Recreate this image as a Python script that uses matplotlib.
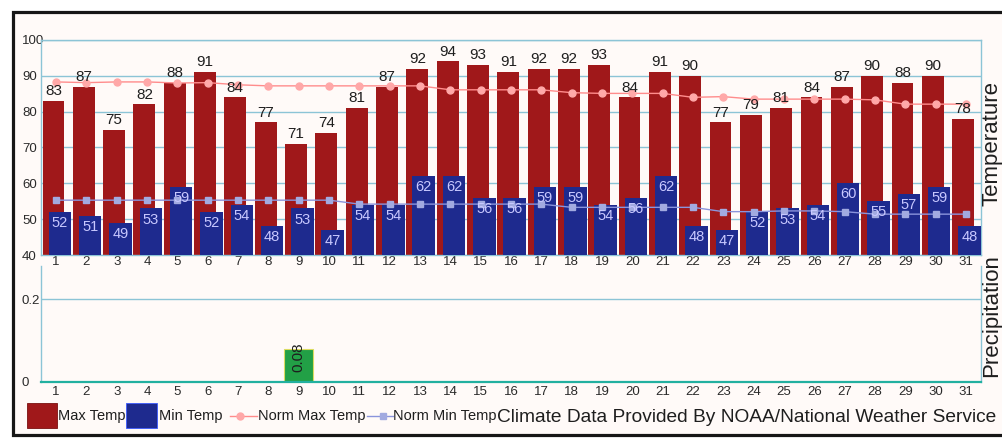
import matplotlib
matplotlib.use('Agg')
import matplotlib.pyplot as plt
from matplotlib.patches import Rectangle
from matplotlib.lines import Line2D
import numpy as np

plt.rcParams['font.family'] = ['Liberation Sans', 'DejaVu Sans']

# ---------------- data ----------------
days = list(range(1, 32))
max_temp = [83, 87, 75, 82, 88, 91, 84, 77, 71, 74, 81, 87, 92, 94, 93, 91,
            92, 92, 93, 84, 91, 90, 77, 79, 81, 84, 87, 90, 88, 90, 78]
min_temp = [52, 51, 49, 53, 59, 52, 54, 48, 53, 47, 54, 54, 62, 62, 56, 56,
            59, 59, 54, 56, 62, 48, 47, 52, 53, 54, 60, 55, 57, 59, 48]
norm_max = [88.3, 88.1, 88.3, 88.3, 88.0, 88.1, 87.5, 87.2, 87.2, 87.2, 87.2,
            87.2, 87.2, 86.1, 86.1, 86.1, 86.1, 85.3, 85.1, 85.1, 85.1, 84.0,
            84.2, 83.5, 83.5, 83.5, 83.5, 83.3, 82.1, 82.1, 82.1]
norm_min = [55.3, 55.3, 55.3, 55.3, 55.3, 55.3, 55.3, 55.3, 55.3, 55.3, 54.2,
            54.2, 54.2, 54.2, 54.2, 54.2, 54.2, 53.3, 53.3, 53.3, 53.3, 53.3,
            52.1, 52.1, 52.3, 52.3, 52.1, 51.4, 51.4, 51.4, 51.4]
precip = [0, 0, 0, 0, 0, 0, 0, 0, 0.08, 0, 0, 0, 0, 0, 0, 0,
          0, 0, 0, 0, 0, 0, 0, 0, 0, 0, 0, 0, 0, 0, 0]
temp_ticks = [40, 50, 60, 70, 80, 90, 100]
precip_ticks = [0, 0.2]
precip_tick_labels = ['0', '0.2']
legend_labels = ['Max Temp', 'Min Temp', 'Norm Max Temp', 'Norm Min Temp']
credit = 'Climate Data Provided By NOAA/National Weather Service'

# ---------------- style ----------------
RED = '#a0181a'
BLUE = '#1e2a8e'
GREEN = '#22a046'
GRID = '#8cc4d6'
PINK = '#ff8c8c'
PINK_M = '#ffa8a8'
LBLUE = '#8a94dc'
LBLUE_M = '#a2aae0'
MINLBL = '#c8c8ff'
TXT = '#1e1e1e'

W, H = 1002, 438
fig = plt.figure(figsize=(W / 100, H / 100), dpi=100)
fig.patch.set_facecolor('white')


def fx(px):
    return px / W


def fy(py):
    return 1 - py / H


# outer frame (behind everything)
frame = Rectangle((fx(12.5), fy(434.5)), fx(1010) - fx(12.5), (434.5 - 11.5) / H,
                  transform=fig.transFigure, facecolor='#fffaf8',
                  edgecolor='#161616', lw=2.3, zorder=-5)
fig.patches.append(frame)

x = np.array(days, dtype=float)

# ---------------- temperature axes ----------------
ax1 = fig.add_axes([fx(41), fy(255), 940 / W, 215 / H])
ax1.set_facecolor('none')
ax1.set_xlim(0.5, 31.5)
ax1.set_ylim(40, 100)
ax1.set_yticks(temp_ticks)
ax1.set_xticks(days)
ax1.grid(axis='y', color=GRID, lw=1.0)
ax1.set_axisbelow(True)
for s in ['left', 'right', 'top', 'bottom']:
    ax1.spines[s].set_color(GRID)
    ax1.spines[s].set_linewidth(1.0)

ax1.bar(x - 0.09, max_temp, width=0.72, color=RED, zorder=2)
ax1.bar(x + 0.12, min_temp, width=0.74, color=BLUE, zorder=3)
ax1.plot(x, norm_max, color=PINK, lw=1.0, marker='o', ms=5,
         mfc=PINK_M, mec=PINK_M, zorder=4)
ax1.plot(x, norm_min, color=LBLUE, lw=1.0, marker='s', ms=5,
         mfc=LBLUE_M, mec=LBLUE_M, zorder=4)

for xi, v in zip(x, max_temp):
    ax1.annotate(str(v), (xi - 0.09, v), xytext=(0, 2), textcoords='offset points',
                 ha='center', va='bottom', fontsize=11, color=TXT, zorder=5)
for xi, v in zip(x, min_temp):
    ax1.annotate(str(v), (xi + 0.12, v), xytext=(0, -3), textcoords='offset points',
                 ha='center', va='top', fontsize=10.5, color=MINLBL, zorder=5)

ax1.tick_params(axis='x', length=0, pad=1, labelsize=9.5, labelcolor='#2a2a2a')
ax1.tick_params(axis='y', length=0, pad=13.7, labelsize=9.5, labelcolor='#2a2a2a')
for lbl in ax1.get_yticklabels():
    lbl.set_horizontalalignment('left')

# ---------------- precipitation axes ----------------
ax2 = fig.add_axes([fx(41), fy(382), 940 / W, (382 - 265.8) / H])
ax2.set_facecolor('none')
ax2.set_xlim(0.5, 31.5)
ax2.set_ylim(0, 0.28)
ax2.set_yticks(precip_ticks)
ax2.set_yticklabels(precip_tick_labels)
ax2.set_xticks(days)
ax2.grid(axis='y', color=GRID, lw=1.0)
ax2.set_axisbelow(True)
ax2.spines['top'].set_visible(False)
for s in ['left', 'right']:
    ax2.spines[s].set_color(GRID)
    ax2.spines[s].set_linewidth(1.0)
ax2.spines['bottom'].set_color('#22b0a0')
ax2.spines['bottom'].set_linewidth(1.6)
ax2.spines['bottom'].set_zorder(4)

ax2.bar(x, precip, width=0.95, color=GREEN, edgecolor='#dcdc60', lw=0.8, zorder=3)
for xi, v in zip(x, precip):
    if v > 0:
        ax2.annotate(f'{v:.2f}', (xi, v), xytext=(0, 4.5), textcoords='offset points',
                     rotation=90, ha='center', va='top', fontsize=11, color=TXT,
                     zorder=5)

ax2.tick_params(axis='x', length=0, pad=3, labelsize=9.5, labelcolor='#2a2a2a')
ax2.tick_params(axis='y', length=0, pad=13.7, labelsize=9.5, labelcolor='#2a2a2a')
for lbl in ax2.get_yticklabels():
    lbl.set_horizontalalignment('left')

# ---------------- side titles ----------------
fig.text(fx(992), fy(144), 'Temperature', rotation=90, ha='center', va='center',
         fontsize=16, color=TXT)
fig.text(fx(992), fy(316), 'Precipitation', rotation=90, ha='center', va='center',
         fontsize=16, color=TXT)

# ---------------- legend ----------------
ly = 416
fig.patches.append(Rectangle((fx(27), fy(428)), 30 / W, 25 / H, transform=fig.transFigure,
                             facecolor=RED, edgecolor='#7a1010', lw=0.6, zorder=3))
fig.text(fx(58), fy(ly), legend_labels[0], ha='left', va='center', fontsize=10.5, color=TXT)
fig.patches.append(Rectangle((fx(126), fy(428)), 31 / W, 25 / H, transform=fig.transFigure,
                             facecolor=BLUE, edgecolor='#3a5aff', lw=0.6, zorder=3))
fig.text(fx(159), fy(ly), legend_labels[1], ha='left', va='center', fontsize=10.5, color=TXT)
fig.lines.append(Line2D([fx(230), fx(257)], [fy(ly), fy(ly)], transform=fig.transFigure,
                        color=PINK, lw=1.0))
fig.lines.append(Line2D([fx(240)], [fy(ly)], transform=fig.transFigure, marker='o', ms=5,
                        mfc=PINK_M, mec=PINK_M, lw=0))
fig.text(fx(258), fy(ly), legend_labels[2], ha='left', va='center', fontsize=10.5, color=TXT)
fig.lines.append(Line2D([fx(367), fx(393)], [fy(ly), fy(ly)], transform=fig.transFigure,
                        color=LBLUE, lw=1.0))
fig.lines.append(Line2D([fx(383)], [fy(ly)], transform=fig.transFigure, marker='s', ms=5,
                        mfc=LBLUE_M, mec=LBLUE_M, lw=0))
fig.text(fx(393), fy(ly), legend_labels[3], ha='left', va='center', fontsize=10.5, color=TXT)
fig.text(fx(497), fy(ly + 1), credit, ha='left', va='center', fontsize=13.8, color=TXT,
         bbox=dict(facecolor='#fffaf8', edgecolor='none', pad=0))

fig.savefig('out.png', dpi=100)
